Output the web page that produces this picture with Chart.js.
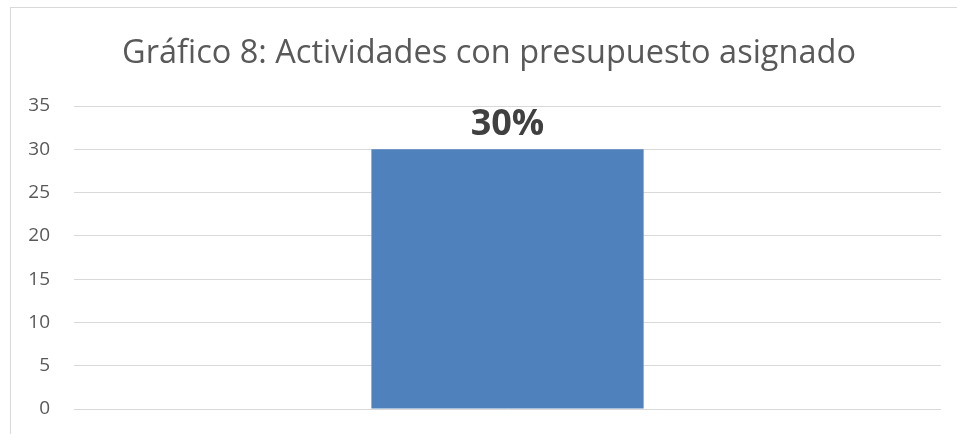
<!DOCTYPE html>
<html>
<head>
<meta charset="utf-8">
<script src="https://cdn.jsdelivr.net/npm/chart.js@4"></script>
<style>
  html, body { margin: 0; padding: 0; background: #fff; overflow: hidden; }
  #wrap { position: relative; width: 957px; height: 434px; }
  #frame { position: absolute; left: 10px; top: 7px; width: 980px; height: 460px; border: 1px solid #d9d9d9; }
  canvas { position: absolute; left: 0; top: 0; }
</style>
</head>
<body>
<div id="wrap">
  <div id="frame"></div>
  <canvas id="barChart" width="957" height="434"></canvas>
</div>
<script>
const chartTitle = 'Gráfico 8: Actividades con presupuesto asignado';
const categories = ['Actividades con presupuesto asignado'];
const values = [30];
const valueLabels = ['30%'];
const yTicks = [0, 5, 10, 15, 20, 25, 30, 35];

// etykieta nad słupkiem + tytuł (bez pluginu datalabels)
const barLabels = {
    id: 'barLabels',
    afterDatasetsDraw(chart) {
        const ctx = chart.ctx;
        const meta = chart.getDatasetMeta(0);
        ctx.save();
        ctx.font = 'bold 36px "Open Sans", sans-serif';
        ctx.fillStyle = '#404040';
        ctx.textAlign = 'center';
        ctx.textBaseline = 'alphabetic';
        meta.data.forEach((bar, i) => {
            ctx.fillText(valueLabels[i], bar.x, bar.y - 14);
        });
        // tytuł wyśrodkowany na ramce wykresu
        ctx.font = '32.5px "Open Sans", sans-serif';
        ctx.fillStyle = '#595959';
        ctx.fillText(chartTitle, 489, 63);
        ctx.restore();
    }
};

const ctx = document.getElementById('barChart').getContext('2d');

const myBarChart = new Chart(ctx, {
    type: 'bar',
    data: {
        labels: categories,
        datasets: [{
            data: values,
            backgroundColor: '#4f81bd',
            borderWidth: 0,
            categoryPercentage: 1,
            barPercentage: 0.314
        }]
    },
    options: {
        responsive: false,
        animation: { duration: 0 },
        layout: { padding: { left: 0, right: 16, top: 106, bottom: 25 } },
        plugins: {
            legend: { display: false },
            tooltip: { enabled: false },
            title: { display: false }
        },
        scales: {
            x: { display: false },
            y: {
                min: 0,
                max: 35,
                afterBuildTicks(scale) {
                    scale.ticks = yTicks.map(v => ({ value: v }));
                },
                afterFit(scale) { scale.width = 74; },
                border: { display: false },
                grid: { color: '#d9d9d9', lineWidth: 1, drawTicks: true, tickLength: 24, tickColor: 'rgba(0,0,0,0)' },
                ticks: {
                    color: '#595959',
                    padding: 0,
                    font: { family: '"Open Sans", sans-serif', size: 19 }
                }
            }
        }
    },
    plugins: [barLabels]
});
</script>
</body>
</html>
